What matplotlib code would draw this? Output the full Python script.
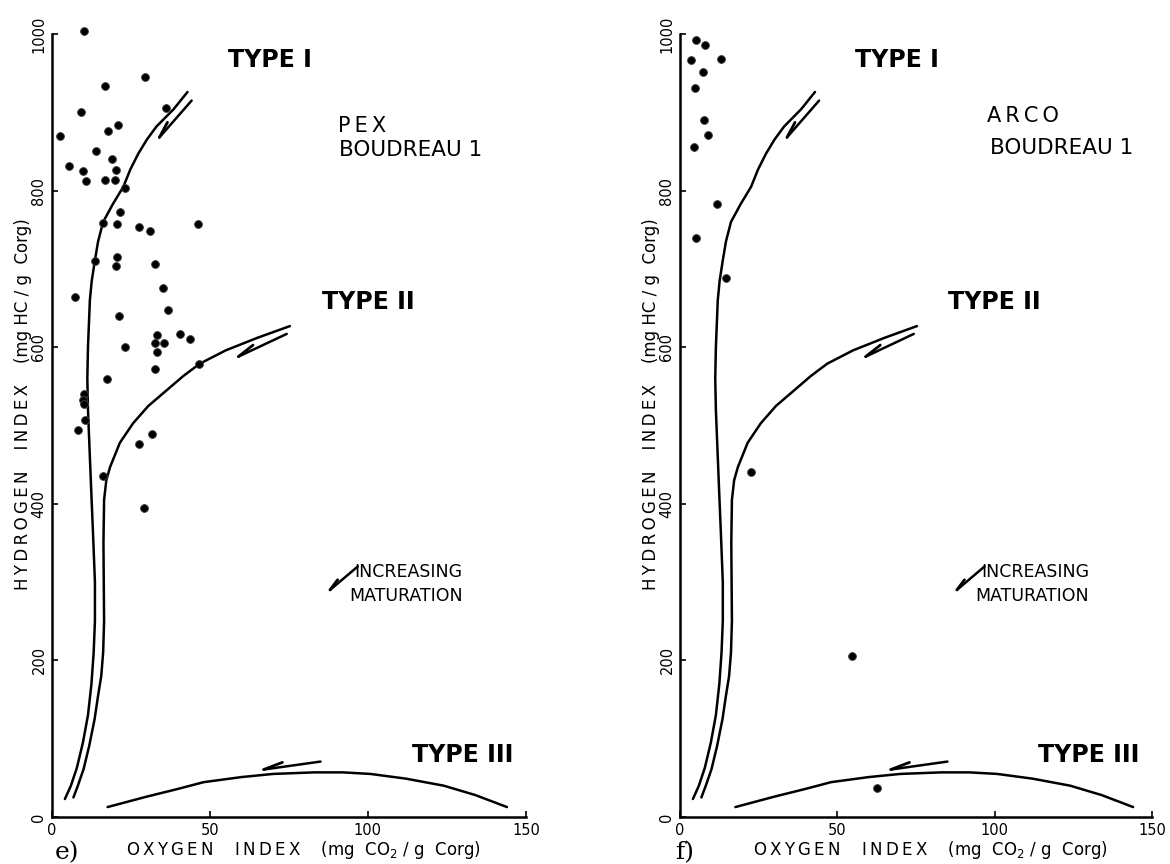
import matplotlib.pyplot as plt
import numpy as np

# Rock-Eval pyrolysis results, Boudreau 1 (oxygen index, hydrogen index)
pex_oi = [10.1, 29.6, 16.8, 36.0, 9.2, 20.8, 17.8, 2.5, 13.8, 19.1, 5.5, 9.9, 20.2,
          10.8, 16.9, 19.9, 23.1, 21.5, 16.1, 20.5, 27.6, 30.9, 46.3, 13.6, 20.5,
          20.3, 32.5, 35.3, 7.4, 36.8, 21.3, 33.4, 32.6, 35.5, 40.5, 43.6, 23.1,
          33.4, 32.7, 46.6, 17.4, 10.3, 9.9, 10.2, 10.6, 8.3, 31.6, 27.5, 16.2, 29.2]
pex_hi = [1004, 945, 934, 906, 901, 884, 876, 870, 851, 840, 832, 825, 826,
          812, 813, 813, 804, 773, 759, 758, 753, 749, 758, 710, 715,
          704, 706, 676, 664, 648, 640, 615, 605, 606, 617, 611, 600,
          594, 572, 579, 560, 540, 532, 528, 507, 494, 489, 476, 435, 395]

arco_oi = [5.0, 8.0, 3.6, 12.9, 7.3, 4.8, 7.5, 8.8, 4.3, 11.6, 5.2, 14.7, 22.5, 54.8, 62.5]
arco_hi = [993, 986, 967, 968, 951, 931, 890, 871, 856, 783, 740, 688, 440, 206, 37]

# kerogen evolution paths (OI, HI)
type1_oi = [42.9, 38.5, 33.1, 30.0, 27.3, 24.8, 22.6, 19.3, 16.2, 14.6, 13.6, 12.6, 12.0,
            11.4, 11.2, 11.4, 11.8, 12.4, 13.0, 13.6, 13.6, 13.2, 12.5, 11.4, 9.8, 7.9, 6.0, 4.1]
type1_hi = [926, 904, 882, 865, 847, 827, 805, 783, 760, 735, 711, 685, 660,
            600, 560, 520, 480, 420, 362, 300, 250, 210, 170, 130, 95, 63, 40, 23]

type2_oi = [75.3, 65.0, 55.0, 46.8, 41.5, 36.3, 30.5, 25.7, 21.5, 18.4, 17.2, 16.5, 16.3,
            16.4, 16.5, 16.2, 15.6, 14.6, 13.5, 11.8, 10.0, 8.2, 6.8]
type2_hi = [627, 612, 596, 579, 563, 545, 525, 503, 478, 447, 430, 405, 350,
            300, 250, 210, 180, 155, 125, 91, 61, 40, 25]

type3_oi = [17.6, 30, 40, 48, 60, 70, 83, 92, 100.8, 112, 124, 134, 144]
type3_hi = [12.7, 26, 36, 44.5, 51, 55, 57, 57, 55, 49, 40, 28, 12.7]

# maturation arrows: (tail, tip)
arrows = [((44.2, 915), (34.0, 868)),
          ((74.3, 617), (59.0, 588)),
          ((85.0, 70.8), (67.0, 60.6)),
          ((96.8, 320), (88.0, 290))]

plt.rcParams['font.family'] = ['DejaVu Sans']
plt.rcParams['mathtext.fontset'] = 'dejavusans'

fig = plt.figure(figsize=(11.7, 8.64), dpi=100)
ax_e = fig.add_axes([0.0444, 0.0544, 0.4051, 0.9062])
ax_f = fig.add_axes([0.5812, 0.0544, 0.4034, 0.9062])

TS = '\u2009'


def spaced(word):
    return TS.join(word)


def harpoon(ax, tail, tip, frac=0.35, angle=13):
    p0 = ax.transData.transform(tail)
    p1 = ax.transData.transform(tip)
    a = np.deg2rad(angle)
    rot = np.array([[np.cos(a), -np.sin(a)], [np.sin(a), np.cos(a)]])
    b = ax.transData.inverted().transform(p1 + rot @ (p0 - p1) * frac)
    ax.plot([tail[0], tip[0]], [tail[1], tip[1]], color='black', lw=1.8,
            solid_capstyle='round', clip_on=False)
    ax.plot([tip[0], b[0]], [tip[1], b[1]], color='black', lw=2.0,
            solid_capstyle='round', clip_on=False)


def panel(ax, oi, hi, operator, letter, op_xy, well_xy):
    ax.set_xlim(0, 150)
    ax.set_ylim(0, 1000)
    for s in ['top', 'right']:
        ax.spines[s].set_visible(False)
    for s in ['left', 'bottom']:
        ax.spines[s].set_linewidth(1.8)
    ax.set_xticks([0, 50, 100, 150])
    ax.set_yticks([0, 200, 400, 600, 800, 1000])
    ax.tick_params(direction='in', length=4, width=1.2, labelsize=10.5, pad=4)
    plt.setp(ax.get_yticklabels(), rotation=90, va='center')

    for xs, ys in [(type1_oi, type1_hi), (type2_oi, type2_hi), (type3_oi, type3_hi)]:
        ax.plot(xs, ys, color='black', lw=1.8, solid_capstyle='round',
                solid_joinstyle='round', clip_on=False)
    for tail, tip in arrows:
        harpoon(ax, tail, tip)

    ax.scatter(oi, hi, s=32, color='black', edgecolor='#444444', linewidth=0.6,
               zorder=3, clip_on=False)

    ax.text(69, 967, 'TYPE I', fontsize=17, fontweight='bold', ha='center', va='center')
    ax.text(100, 658, 'TYPE II', fontsize=17, fontweight='bold', ha='center', va='center')
    ax.text(130, 79, 'TYPE III', fontsize=17, fontweight='bold', ha='center', va='center')
    ax.text(130, 313, 'INCREASING', fontsize=12.5, ha='right', va='center')
    ax.text(130, 282, 'MATURATION', fontsize=12.5, ha='right', va='center')
    ax.text(op_xy[0], op_xy[1], spaced(operator), fontsize=15, ha='left', va='center')
    ax.text(well_xy[0], well_xy[1], 'BOUDREAU 1', fontsize=15.5, ha='left', va='center')

    ylab = spaced('HYDROGEN') + '    ' + spaced('INDEX') + '    (mg HC / g  Corg)'
    xlab = spaced('OXYGEN') + '    ' + spaced('INDEX') + '    (mg  CO$_2$ / g  Corg)'
    ax.text(-0.062, 0.527, ylab, transform=ax.transAxes,
            rotation=90, fontsize=12, ha='center', va='center')
    ax.text(0.53, -0.042, xlab, transform=ax.transAxes,
            fontsize=12, ha='center', va='center')
    ax.text(letter[1], -0.045, letter[0], transform=ax.transAxes, family='DejaVu Serif',
            fontsize=18, ha='left', va='center')


panel(ax_e, pex_oi, pex_hi, 'PEX', ('e)', 0.005), (90.5, 882), (91, 852))
panel(ax_f, arco_oi, arco_hi, 'ARCO', ('f)', -0.01), (97.6, 895), (98.5, 854))

fig.savefig('out.png', dpi=100)
